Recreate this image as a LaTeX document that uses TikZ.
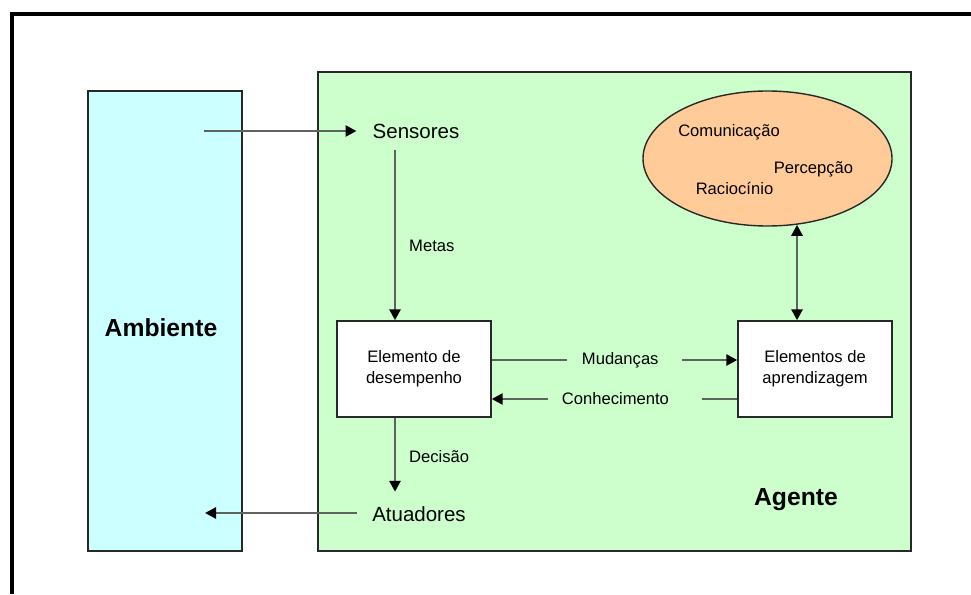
\documentclass[tikz,border=0pt]{standalone}
\usepackage{fontspec}
\setmainfont{Liberation Sans}
\usetikzlibrary{arrows.meta,shapes.geometric,calc}
\definecolor{envcyan}{RGB}{204,255,255}
\definecolor{agentgreen}{RGB}{204,255,204}
\definecolor{coreorange}{RGB}{255,204,153}
\definecolor{wire}{RGB}{92,100,92}
\definecolor{edge}{RGB}{40,40,40}
\begin{document}
\begin{tikzpicture}[x=1pt,y=-1pt,
  panel/.style={draw=edge, line width=1.4pt, rectangle, inner sep=0pt},
  procbox/.style={panel, fill=white, minimum width=154pt, minimum height=96pt,
    align=center, font=\fontsize{16.6}{21}\selectfont},
  bigtext/.style={font=\fontsize{20.5}{24}\selectfont},
  smalltext/.style={font=\fontsize{16.6}{20}\selectfont, inner sep=0pt},
  titletext/.style={font=\bfseries\fontsize{24.7}{28}\selectfont, inner sep=0pt},
  conn/.style={draw=wire, line width=2.6pt},
  fwd/.style={-{Triangle[length=11pt,width=11pt,color=black]}},
  both/.style={{Triangle[length=11pt,width=11pt,color=black]}-{Triangle[length=11pt,width=11pt,color=black]}},
  gaplabel/.style={smalltext, fill=agentgreen, inner ysep=2pt, align=left}
]
\useasboundingbox (0,0) rectangle (971,594);
\fill[white] (0,0) rectangle (971,594);

% outer frame (top and left edges)
\draw[line width=3.2pt] (971,14) -- (12,14) -- (12,594);

% environment and agent panels
\node[panel, fill=envcyan, minimum width=154pt, minimum height=460pt] (amb) at (165,321) {};
\node[panel, fill=agentgreen, minimum width=593pt, minimum height=479pt] (agent) at (614.5,311.5) {};

\node[titletext] (amblabel) at (161,328) {Ambiente};
\node[titletext] (agentlabel) at (796,500) {Agente};

% cognitive core
\node[ellipse, draw=edge, line width=1.4pt, fill=coreorange, minimum width=249pt,
  minimum height=135pt, inner sep=0pt] (core) at (767.5,158.5) {};
\node[smalltext] (com) at (729,132) {Comunicação};
\node[smalltext] (perc) at (813.5,169) {Percepção};
\node[smalltext] (rac) at (734.5,188) {Raciocínio};

% processing blocks
\node[procbox] (perf) at (414,369) {Elemento de\\desempenho};
\node[procbox] (learn) at (815,369) {Elementos de\\aprendizagem};

% sensors and actuators
\node[bigtext, inner xsep=16pt, inner ysep=11.5pt] (sensores) at (416,131) {Sensores};
\node[bigtext, inner xsep=15pt, inner ysep=14.5pt] (atuadores) at (419,514) {Atuadores};

\coordinate (col) at (395,0);
\coordinate (envin) at (204,131);
\coordinate (envout) at (205,513);
\coordinate (coreport) at ([xshift=-18pt]learn.north);

% connectors
\draw[conn,fwd] (envin) -- (sensores.west);
\draw[conn,fwd] (sensores.south -| col) -- (col |- perf.north);
\draw[conn,fwd] (col |- perf.south) -- (col |- atuadores.north);
\draw[conn,fwd] (atuadores.west |- envout) -- (envout);
\draw[conn,both] (coreport |- core.-66) -- (coreport);

\draw[conn,fwd] ([yshift=9pt]perf.east) --
  node[gaplabel, pos=0.5405, inner xsep=15pt, text width=85pt] (mud) {Mudanças}
  ([yshift=9pt]learn.west);
\draw[conn,fwd] ([yshift=-30pt]learn.west) --
  node[gaplabel, pos=0.4575, inner xsep=14pt, text width=126pt] (con) {Conhecimento}
  ([yshift=-30pt]perf.east);

% arrow labels
\node[smalltext, anchor=west] (metas) at (409,246) {Metas};
\node[smalltext, anchor=west] (decisao) at (409,457) {Decisão};
\end{tikzpicture}
\end{document}
